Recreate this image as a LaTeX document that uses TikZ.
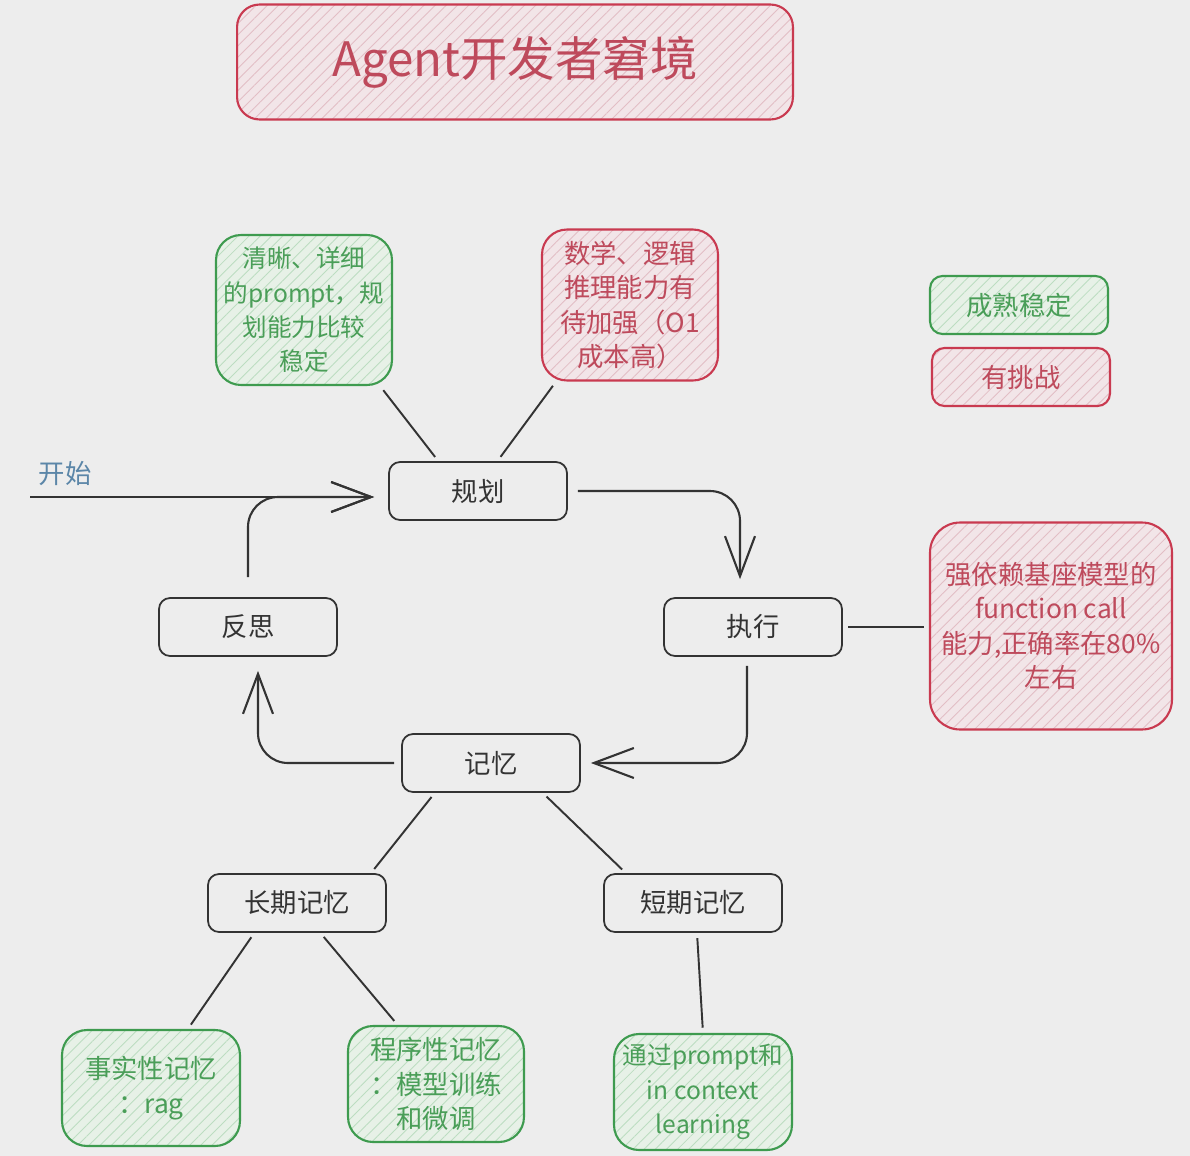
\documentclass[tikz,border=0pt]{standalone}
\usepackage{fontspec}
\newfontfamily\cjk{Noto Sans CJK SC}
\usetikzlibrary{arrows.meta,patterns.meta}

\definecolor{bgcol}{HTML}{EDEDED}
\definecolor{goodline}{HTML}{3E9B4F}
\definecolor{goodtext}{HTML}{4A9E58}
\definecolor{goodfill}{HTML}{E7F1E7}
\definecolor{goodhatch}{HTML}{BCDDC1}
\definecolor{hardline}{HTML}{C93A50}
\definecolor{hardtext}{HTML}{BE4A5C}
\definecolor{hardfill}{HTML}{F2E5E8}
\definecolor{hardhatch}{HTML}{E2BEC5}
\definecolor{plainline}{HTML}{333333}
\definecolor{startcol}{HTML}{5B86A8}

\tikzset{
  plainbox/.style={draw=plainline, line width=1pt, rounded corners=0.22cm,
    minimum width=3.56cm, minimum height=1.16cm, text=black!80},
  good/.style={draw=goodline, line width=1.2pt, rounded corners=0.5cm,
    text=goodtext, align=center, inner xsep=1pt,
    preaction={fill=goodfill},
    preaction={pattern={Lines[angle=45,distance=4.5pt,line width=0.5pt]}, pattern color=goodhatch}},
  hard/.style={draw=hardline, line width=1.2pt, rounded corners=0.5cm,
    text=hardtext, align=center, inner xsep=1pt,
    preaction={fill=hardfill},
    preaction={pattern={Lines[angle=45,distance=4.5pt,line width=0.5pt]}, pattern color=hardhatch}},
  narrow/.style={font=\cjk\fontsize{14}{19.5}\selectfont},
  link/.style={draw=plainline, line width=1.1pt, shorten <=3pt, shorten >=3pt},
  flow/.style={draw=plainline, line width=1.2pt, rounded corners=0.6cm,
    -{Straight Barb[length=0.8cm,width=0.6cm]}},
}

\begin{document}
\begin{tikzpicture}[x=0.02cm,y=-0.02cm,
  every node/.style={font=\cjk\fontsize{15}{19.5}\selectfont}]
\fill[bgcol] (0,0) rectangle (1190,1156);
\useasboundingbox (0,0) rectangle (1190,1156);

% title
\node[hard, minimum width=11.12cm, minimum height=2.3cm, rounded corners=0.45cm,
  font=\cjk\fontsize{27}{32}\selectfont] (title) at (515,62) {Agent开发者窘境};

% legend
\node[good, minimum width=3.56cm, minimum height=1.16cm, rounded corners=0.25cm] (legok) at (1019,305) {成熟稳定};
\node[hard, minimum width=3.56cm, minimum height=1.16cm, rounded corners=0.25cm] (leghard) at (1021,377) {有挑战};

% main loop
\node[plainbox] (plan) at (478,491) {规划};
\node[plainbox] (exec) at (753,627) {执行};
\node[plainbox] (reflect) at (248,627) {反思};
\node[plainbox] (mem) at (491,763) {记忆};
\node[plainbox] (longmem) at (297,903) {长期记忆};
\node[plainbox] (shortmem) at (693,903) {短期记忆};

% notes
\node[good, narrow, minimum width=3.52cm, minimum height=3cm] (planok) at (304,310) {清晰、详细\\的prompt，规\\划能力比较\\稳定};
\node[hard, minimum width=3.52cm, minimum height=3.02cm] (planhard) at (630,305) {数学、逻辑\\推理能力有\\待加强（O1\\成本高）};
\node[hard, minimum width=4.84cm, minimum height=4.14cm, rounded corners=0.6cm] (exechard) at (1051,626) {强依赖基座模型的\\function call\\能力,正确率在80\%\\左右};
\node[good, minimum width=3.56cm, minimum height=2.32cm] (factmem) at (151,1088) {事实性记忆\\：rag};
\node[good, minimum width=3.52cm, minimum height=2.32cm] (procmem) at (436,1084) {程序性记忆\\：模型训练\\和微调};
\node[good, narrow, minimum width=3.56cm, minimum height=2.32cm] (ctxmem) at (703,1092) {通过prompt和\\in context\\learning};

% start
\node[text=startcol] (startlbl) at (65,474) {开始};
\coordinate (in) at (30,497);

% arrows
\draw[flow, shorten >=0.28cm] (in) -- (in -| plan.west);
\draw[flow, shorten <=0.4cm, shorten >=0.28cm] (reflect.north) |- (in -| plan.west);
\draw[flow, shorten <=0.2cm, shorten >=0.36cm] (plan.east) -| ([xshift=-0.26cm]exec.north);
\draw[flow, shorten <=0.18cm, shorten >=0.2cm] ([xshift=-0.12cm]exec.south) |- (mem.east);
\draw[flow, shorten <=0.14cm, shorten >=0.28cm] (mem.west) -| ([xshift=0.2cm]reflect.south);

% links
\draw[link] (planok.-45) -- (plan.143);
\draw[link] (planhard.226) -- (plan.57);
\draw[link] (exec.east) -- (exec.east -| exechard.west);
\draw[link] (mem.208) -- (longmem.22);
\draw[link] (mem.-30) -- (shortmem.156);
\draw[link] (longmem.215) -- (factmem.58);
\draw[link] (longmem.-52) -- (procmem.123);
\draw[link] ([xshift=0.08cm]shortmem.south) -- (ctxmem.north);
\end{tikzpicture}
\end{document}
